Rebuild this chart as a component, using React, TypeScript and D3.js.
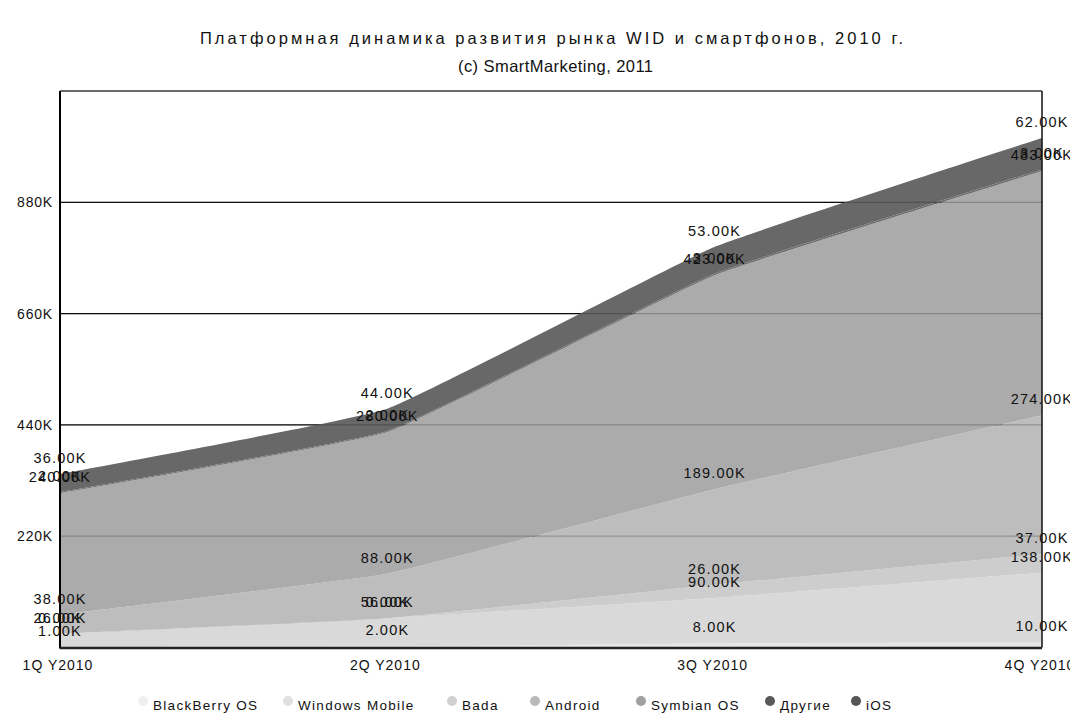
import React from "react";
import * as d3 from "d3";

const quarters = ["1Q Y2010", "2Q Y2010", "3Q Y2010", "4Q Y2010"];
const seriesNames = ["BlackBerry OS", "Windows Mobile", "Bada", "Android", "Symbian OS", "Другие", "iOS"];
const blackberry = [1, 2, 8, 10];
const windowsMobile = [26, 56, 90, 138];
const bada = [0, 0, 26, 37];
const android = [38, 88, 189, 274];
const symbian = [240, 280, 423, 483];
const others = [2, 2, 3, 3];
const ios = [36, 44, 53, 62];
const yTicks = [220, 440, 660, 880];

const title = "Платформная динамика развития рынка WID и смартфонов, 2010 г.";
const subtitle = "(c) SmartMarketing, 2011";

const areaColors = ["#e6e6e6", "#d9d9d9", "#cdcdcd", "#bdbdbd", "#ababab", "#6e6e6e", "#686868"];
const legendColors = ["#efefef", "#e0e0e0", "#d0d0d0", "#bababa", "#a0a0a0", "#5a5a5a", "#555555"];
const legendTextX = [153, 298, 462, 545, 651, 780, 866];

const FONT = "'Liberation Sans', Arial, sans-serif";

export default function App() {
  const W = 1070, H = 713;
  const left = 60, right = 1042, top = 91, bottom = 647.5;
  const seriesValues = [blackberry, windowsMobile, bada, android, symbian, others, ios];
  const rows = quarters.map((q, i) => {
    const r: any = { q };
    seriesNames.forEach((n, k) => (r[n] = seriesValues[k][i]));
    return r;
  });
  const stacked = d3.stack().keys(seriesNames)(rows);
  const x = d3.scalePoint().domain(quarters).range([left, right]);
  const y = d3.scaleLinear().domain([0, 1100]).range([bottom, top]);
  const area = d3
    .area<any>()
    .x((d) => x(d.data.q)!)
    .y0((d) => y(d[0]))
    .y1((d) => y(d[1]))
    .curve(d3.curveCardinal.tension(0.7));
  const fmt = d3.format(".2f");

  return (
    <svg width={W} height={H} style={{ position: "absolute", left: 0, top: 0, background: "#fff" }} fontFamily={FONT}>
      <rect x={0} y={0} width={W} height={H} fill="#fff" />
      <text x={200} y={44} fontSize={16.5} textLength={703} lengthAdjust="spacing" fill="#111">{title}</text>
      <text x={458} y={72} fontSize={16.5} textLength={195} lengthAdjust="spacing" fill="#111">{subtitle}</text>

      {yTicks.map((t) => (
        <line key={"g" + t} x1={left} x2={right} y1={y(t)} y2={y(t)} stroke="#111" strokeWidth={1.3} />
      ))}
      {stacked.map((s, k) => (
        <path key={s.key} d={area(s as any)!} fill={areaColors[k]} />
      ))}
      {yTicks.map((t) => (
        <line key={"go" + t} x1={left} x2={right} y1={y(t)} y2={y(t)} stroke="#000" strokeOpacity={0.22} strokeWidth={1.3} />
      ))}

      <line x1={left} x2={right} y1={top} y2={top} stroke="#6a6a6a" strokeWidth={2} />
      <line x1={right} x2={right} y1={top} y2={bottom} stroke="#111" strokeWidth={1.5} />
      <line x1={left} x2={left} y1={top} y2={bottom + 1} stroke="#000" strokeWidth={2} />
      <line x1={left} x2={right} y1={bottom + 0.5} y2={bottom + 0.5} stroke="#222" strokeWidth={2.5} />

      {yTicks.map((t) => (
        <text key={"yt" + t} x={53} y={y(t) + 5} fontSize={14} letterSpacing={0.8} textAnchor="end" fill="#111">
          {t + "K"}
        </text>
      ))}
      {quarters.map((q) => (
        <text key={"xt" + q} x={x(q)! - 2} y={670} fontSize={14} letterSpacing={1} textAnchor="middle" fill="#111">
          {q}
        </text>
      ))}

      {stacked.map((s, k) =>
        s.map((d: any, i: number) => (
          <text
            key={"v" + k + "-" + i}
            x={x(d.data.q)!}
            y={y(d[1]) - 11}
            fontSize={14.5}
            letterSpacing={1.2}
            textAnchor="middle"
            fill="#111"
          >
            {fmt(seriesValues[k][i]) + "K"}
          </text>
        ))
      )}

      {seriesNames.map((n, k) => (
        <g key={"lg" + n}>
          <circle cx={legendTextX[k] - 10} cy={701} r={5} fill={legendColors[k]} />
          <text x={legendTextX[k]} y={710} fontSize={13.5} letterSpacing={1.3} fill="#111">
            {n}
          </text>
        </g>
      ))}
    </svg>
  );
}
